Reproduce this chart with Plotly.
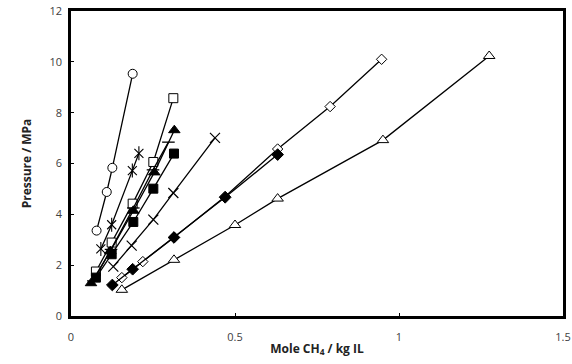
import plotly.graph_objects as go

# Data
circ_x = [0.078, 0.109, 0.126, 0.188]
circ_y = [3.36, 4.88, 5.83, 9.53]

osq_x = [0.076, 0.124, 0.188, 0.251, 0.312]
osq_y = [1.75, 2.89, 4.42, 6.06, 8.57]

star_x = [0.091, 0.124, 0.187, 0.207]
star_y = [2.64, 3.59, 5.72, 6.40]

dash_x = [0.068, 0.122, 0.19, 0.25, 0.297]
dash_y = [1.38, 2.62, 4.25, 5.75, 6.84]

ftri_x = [0.061, 0.12, 0.19, 0.254, 0.315]
ftri_y = [1.29, 2.55, 4.14, 5.65, 7.31]

fsq_x = [0.076, 0.124, 0.19, 0.251, 0.314]
fsq_y = [1.51, 2.43, 3.70, 5.01, 6.39]

xm_x = [0.129, 0.185, 0.251, 0.312, 0.439]
xm_y = [1.94, 2.77, 3.79, 4.84, 7.01]

fdia_x = [0.126, 0.188, 0.314, 0.47, 0.63]
fdia_y = [1.22, 1.84, 3.09, 4.67, 6.35]

odia_x = [0.155, 0.219, 0.314, 0.47, 0.63, 0.79, 0.947]
odia_y = [1.51, 2.14, 3.09, 4.70, 6.57, 8.24, 10.10]

otri_x = [0.155, 0.314, 0.5, 0.63, 0.951, 1.275]
otri_y = [1.03, 2.21, 3.58, 4.62, 6.92, 10.23]

x_ticks = [0, 0.5, 1, 1.5]
x_tick_labels = ["0", "0.5", "1", "1.5"]
y_ticks = [0, 2, 4, 6, 8, 10, 12]

FONT = "Open Sans, Liberation Sans, sans-serif"

fig = go.Figure()

def add(x, y, symbol, size=8, fill="white", lw=1.0, mode="lines+markers"):
    fig.add_trace(go.Scatter(
        x=x, y=y, mode=mode,
        line=dict(color="black", width=1.3),
        marker=dict(symbol=symbol, size=size, color=fill,
                    line=dict(color="black", width=lw)),
        showlegend=False, hoverinfo="skip"))

add(circ_x, circ_y, "circle", 9)
add(osq_x, osq_y, "square", 9)
add(star_x, star_y, "x-thin", 9, lw=1.1)
add(star_x, star_y, "line-ns", 10, lw=1.1, mode="markers")
add(dash_x, dash_y, "line-ew", 9, lw=1.3)
add(ftri_x, ftri_y, "triangle-up", 10, fill="black")
add(fsq_x, fsq_y, "square", 9, fill="black")
add(xm_x, xm_y, "x-thin", 10, lw=1.2)
add(odia_x, odia_y, "diamond", 8)
add(fdia_x, fdia_y, "diamond", 9, fill="black")
add(otri_x, otri_y, "triangle-up", 10)

axis_common = dict(
    showgrid=False, zeroline=False, showline=True, mirror=True,
    linecolor="black", linewidth=2.5, ticks="inside", ticklen=3,
    tickcolor="black", tickwidth=1, automargin=False,
    tickfont=dict(family=FONT, size=11, color="#404040"),
)

fig.update_layout(
    width=572, height=364,
    margin=dict(l=71, r=9, t=11, b=48),
    plot_bgcolor="white", paper_bgcolor="white",
    xaxis=dict(range=[0, 1.5], tickvals=x_ticks, ticktext=x_tick_labels,
               ticklabelstandoff=9,
               title=dict(text="<b>Mole CH<sub>4</sub> / kg IL</b>", standoff=2,
                          font=dict(family=FONT, size=12, color="#222")),
               **axis_common),
    yaxis=dict(range=[0, 12], tickvals=y_ticks,
               ticklabelstandoff=4,
               title=dict(text="<b>Pressure / MPa</b>", standoff=16,
                          font=dict(family=FONT, size=12, color="#222")),
               **axis_common),
)

fig.write_html("out.html")
